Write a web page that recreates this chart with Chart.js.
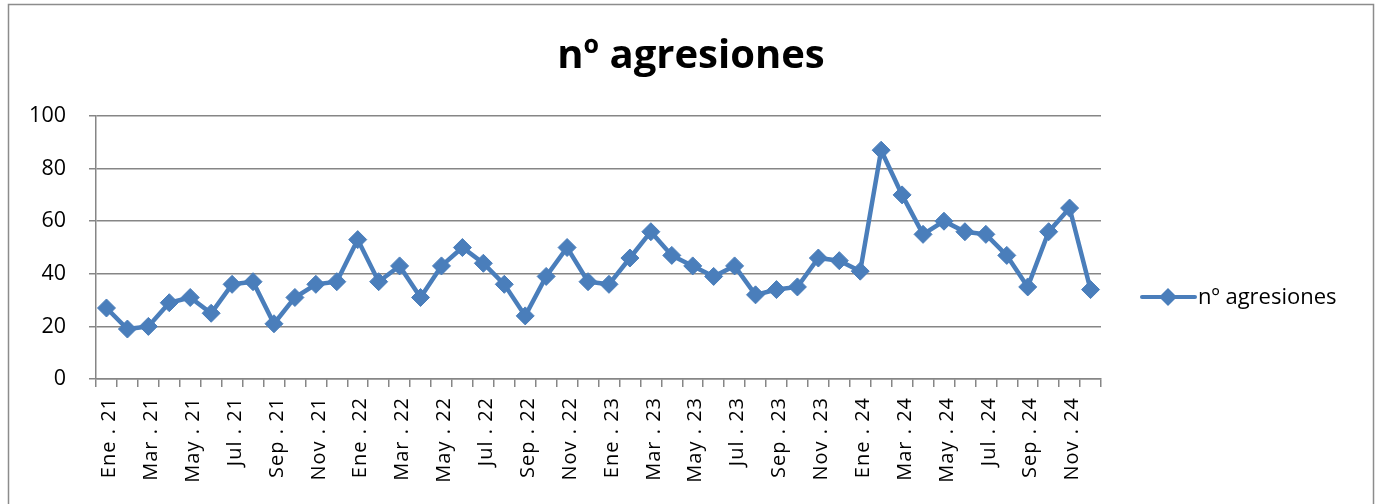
<!DOCTYPE html>
<html>
<head>
<meta charset="utf-8">
<script src="https://cdn.jsdelivr.net/npm/chart.js@4/dist/chart.umd.min.js"></script>
<style>
  html, body { margin: 0; padding: 0; background: #fff; }
  #wrap { position: absolute; left: 0; top: 0; width: 1375px; height: 504px; }
</style>
</head>
<body>
<div id="wrap"><canvas id="c" width="1375" height="504"></canvas></div>
<script>
const chartTitle = "nº agresiones";
const seriesName = "nº agresiones";
const months = ["Ene", "Feb", "Mar", "Abr", "May", "Jun", "Jul", "Ago", "Sep", "Oct", "Nov", "Dic"];
const years = ["21", "22", "23", "24"];
const categories = [];
years.forEach(y => months.forEach(m => categories.push(m + " . " + y)));
const values2021 = [27, 19, 20, 29, 31, 25, 36, 37, 21, 31, 36, 37];
const values2022 = [53, 37, 43, 31, 43, 50, 44, 36, 24, 39, 50, 37];
const values2023 = [36, 46, 56, 47, 43, 39, 43, 32, 34, 35, 46, 45];
const values2024 = [41, 87, 70, 55, 60, 56, 55, 47, 35, 56, 65, 34];
const values = [].concat(values2021, values2022, values2023, values2024);
const yTicks = [0, 20, 40, 60, 80, 100];

const LINE = '#4A7EBB';
const GRID = '#868686';
const FONT = '"Open Sans", "DejaVu Sans", sans-serif';

const PLOT_LEFT = 96, PLOT_RIGHT = 1101, PLOT_TOP = 116, PLOT_BOTTOM = 379;

function fitFont(ctx, text, weight, targetWidth, maxSize) {
  let size = maxSize;
  for (; size > 6; size -= 0.5) {
    ctx.font = weight + ' ' + size + 'px ' + FONT;
    if (ctx.measureText(text).width <= targetWidth) break;
  }
  return size;
}

const frame = {
  id: 'frame',
  afterLayout(chart) {
    const xs = chart.scales.x;
    if (!xs._spacedLabels) {
      const orig = xs.drawLabels.bind(xs);
      xs.drawLabels = function (area) {
        const ctx = chart.ctx;
        ctx.save();
        ctx.letterSpacing = '1px';
        orig(area);
        ctx.restore();
      };
      xs._spacedLabels = true;
    }
  },
  beforeDraw(chart) {
    const ctx = chart.ctx;
    ctx.save();
    ctx.fillStyle = '#fff';
    ctx.fillRect(0, 0, chart.width, chart.height);
    ctx.strokeStyle = '#8c8c8c';
    ctx.lineWidth = 1.5;
    ctx.strokeRect(8.5, 4.5, 1365, 520);
    ctx.restore();
  },
  afterDraw(chart) {
    const ctx = chart.ctx;
    ctx.save();
    // title
    ctx.fillStyle = '#000';
    fitFont(ctx, chartTitle, 'bold', 270, 40);
    ctx.textAlign = 'center';
    ctx.textBaseline = 'middle';
    ctx.fillText(chartTitle, 691, 57);
    // legend
    const ly = 297;
    ctx.strokeStyle = LINE;
    ctx.lineWidth = 4;
    ctx.lineCap = 'round';
    ctx.beginPath();
    ctx.moveTo(1142, ly);
    ctx.lineTo(1195, ly);
    ctx.stroke();
    ctx.fillStyle = LINE;
    ctx.beginPath();
    ctx.moveTo(1168, ly - 9);
    ctx.lineTo(1177, ly);
    ctx.lineTo(1168, ly + 9);
    ctx.lineTo(1159, ly);
    ctx.closePath();
    ctx.fill();
    ctx.fillStyle = '#000';
    fitFont(ctx, seriesName, 'normal', 147, 22);
    ctx.textAlign = 'left';
    ctx.fillText(seriesName, 1198, ly + 1);
    ctx.restore();
  }
};

new Chart(document.getElementById('c'), {
  type: 'line',
  data: {
    labels: categories,
    datasets: [{
      label: seriesName,
      data: values,
      borderColor: LINE,
      backgroundColor: LINE,
      borderWidth: 4.5,
      pointStyle: 'rectRot',
      pointRadius: 9,
      pointBackgroundColor: LINE,
      pointBorderColor: LINE,
      pointBorderWidth: 1,
      tension: 0,
      fill: false
    }]
  },
  options: {
    responsive: false,
    animation: false,
    devicePixelRatio: 1,
    layout: { padding: { top: PLOT_TOP, left: 0, right: 1375 - PLOT_RIGHT, bottom: 0 } },
    plugins: { legend: { display: false }, title: { display: false }, tooltip: { enabled: false } },
    scales: {
      x: {
        type: 'category',
        offset: true,
        afterFit(scale) { scale.height = 504 - PLOT_BOTTOM; },
        grid: { offset: true, drawOnChartArea: false, drawTicks: true, tickLength: 8, color: GRID, lineWidth: 1.5 },
        border: { display: true, color: GRID, width: 1.5 },
        ticks: {
          autoSkip: false,
          maxRotation: 90,
          minRotation: 90,
          padding: 10,
          labelOffset: 3,
          color: '#000',
          font: { family: FONT, size: 20 },
          callback(v, i) { return i % 2 === 0 ? categories[i] : ''; }
        }
      },
      y: {
        min: 0,
        max: 100,
        afterFit(scale) { scale.width = PLOT_LEFT; },
        afterBuildTicks(scale) { scale.ticks = yTicks.map(v => ({ value: v })); },
        grid: { color: GRID, lineWidth: 1.5, drawTicks: true, tickLength: 7 },
        border: { display: true, color: GRID, width: 1.5 },
        ticks: {
          padding: 23,
          color: '#000',
          font: { family: FONT, size: 21.5 }
        }
      }
    }
  },
  plugins: [frame]
});
</script>
</body>
</html>
